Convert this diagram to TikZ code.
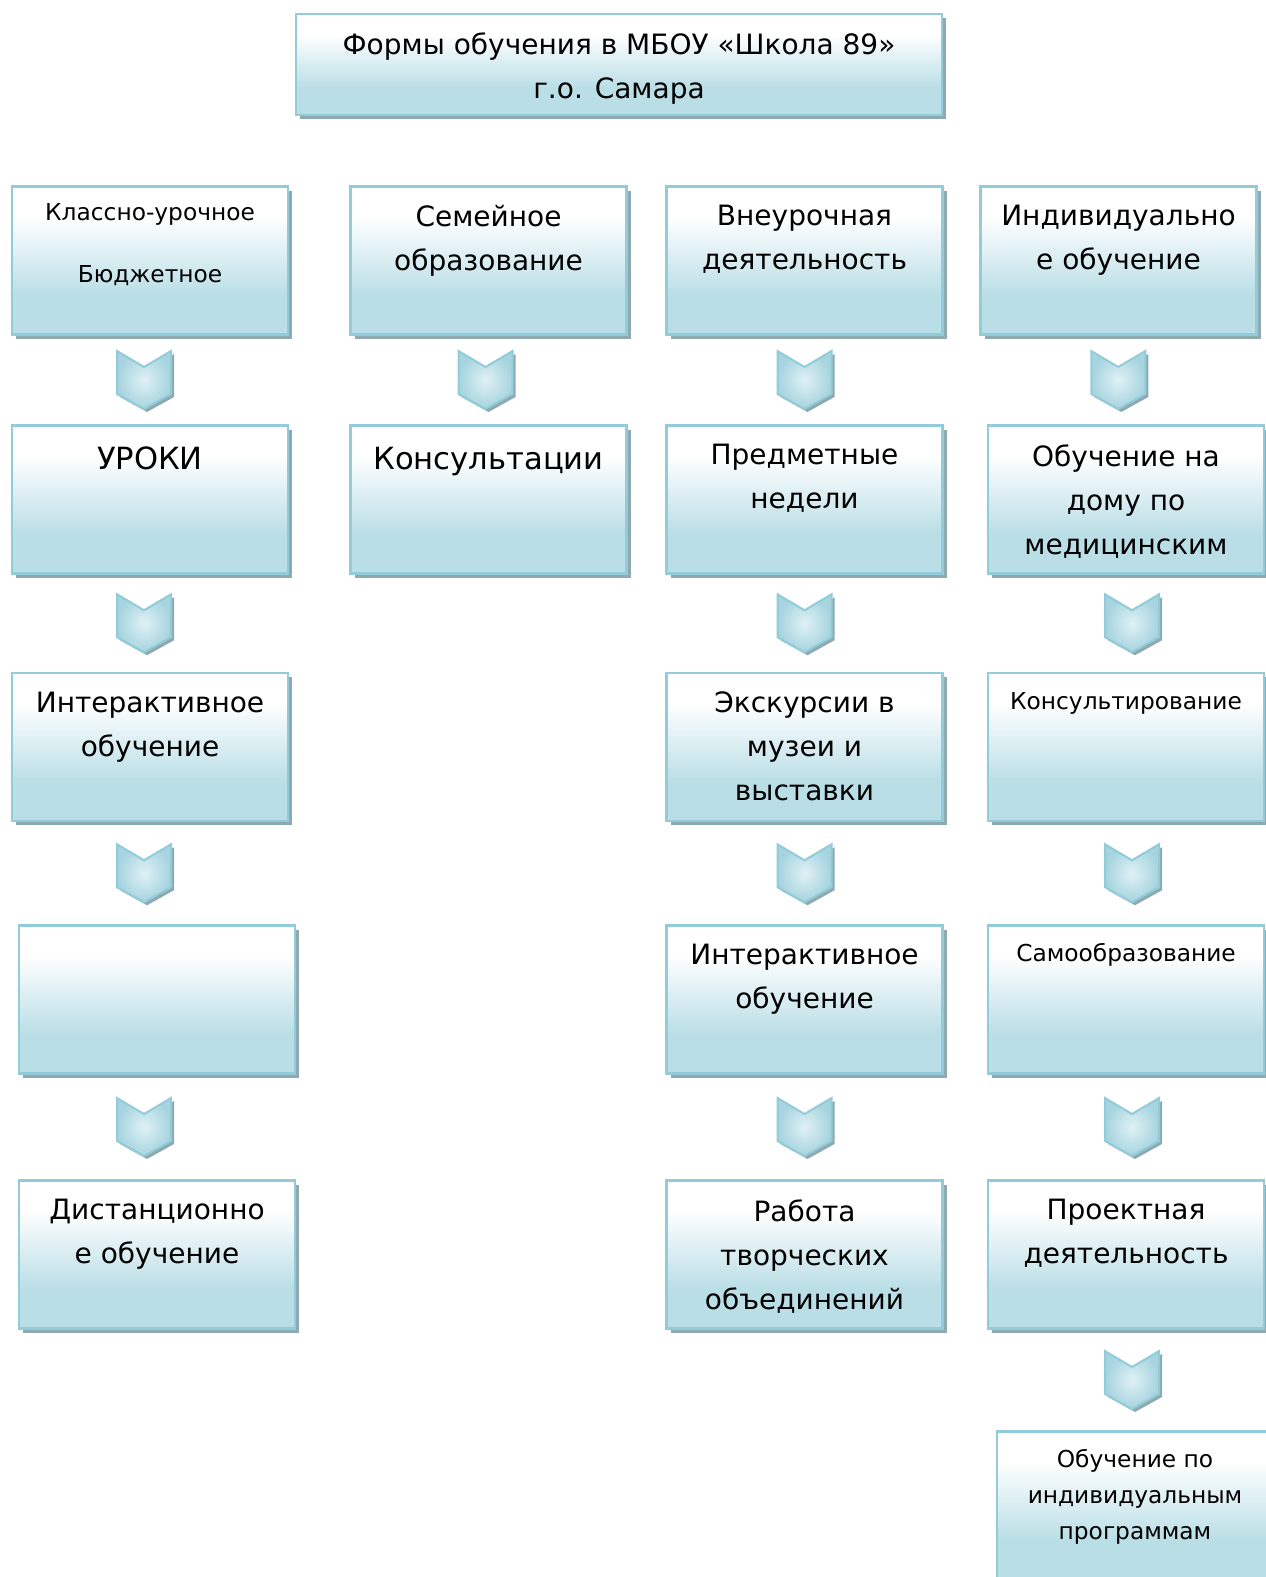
\documentclass[tikz,border=0pt]{standalone}
\usepackage{fontspec}
\setmainfont{DejaVu Sans}
\usetikzlibrary{calc,shadows}
\definecolor{boxblue}{HTML}{B9DEE6}
\definecolor{boxline}{HTML}{92CCDA}
\definecolor{boxshadow}{HTML}{8FA9B0}
\definecolor{chevlight}{HTML}{E0F1F5}
\definecolor{chevdark}{HTML}{A6D4DF}
\pgfdeclareverticalshading{boxshade}{100bp}{color(0bp)=(boxblue); color(38bp)=(boxblue); color(65bp)=(white); color(100bp)=(white)}
\newcommand\bigsz{\fontsize{28}{44}\selectfont}
\newcommand\hugesz{\fontsize{30.6}{44}\selectfont}
\newcommand\smallsz{\fontsize{23.3}{36}\selectfont}
\tikzset{
  box/.style={draw=boxline, line width=2.5pt, shade, shading=boxshade,
    minimum width=276pt, minimum height=148pt, inner sep=0pt,
    drop shadow={shadow xshift=4pt, shadow yshift=-4pt, fill=boxshadow, opacity=1}},
  txt/.style={font=\bigsz, align=center, inner sep=0pt, anchor=north, yshift=-20pt,
    execute at begin node={\rule{0pt}{0.95em}}},
  stxt/.style={txt, font=\smallsz, yshift=5pt},
  htxt/.style={txt, font=\hugesz, yshift=4pt},
  chevfill/.style={draw=boxline, line width=2pt, inner color=chevlight, outer color=chevdark,
    drop shadow={shadow xshift=3pt, shadow yshift=-3pt, fill=boxshadow, opacity=1}},
  chev/.pic={\path[chevfill] (-27,-29) -- (0,-13) -- (27,-29) -- (27,14) -- (0,29) -- (-27,14) -- cycle;}
}
% chevron between two boxes, optional sideways shift
\newcommand\chev[3][0]{\pic at ($(#2.south)!.5!(#3.north)+(#1,0)$) {chev};}

\begin{document}
\begin{tikzpicture}[x=1pt,y=-1pt]
\useasboundingbox (0,0) rectangle (1266,1577);
\clip (0,0) rectangle (1266,1577);

\node[box, minimum width=646pt, minimum height=101pt,
  label={[txt]north:Формы обучения в МБОУ «Школа 89»\\г.о. Самара}] (title) at (619,64.5) {};

% column 1
\node[box, label={[stxt, yshift=-3pt]north:Классно-урочное\\[26pt]Бюджетное}] (k1) at (150,260.5) {};
\node[box, label={[htxt]north:УРОКИ}] (k2) at (150,499.5) {};
\node[box, label={[txt]north:Интерактивное\\обучение}] (k3) at (150,747) {};
\node[box] (k4) at (157,999.5) {};
\node[box, label={[txt]north:Дистанционно\\е обучение}] (k5) at (157,1254.5) {};

% column 2
\node[box, label={[txt]north:Семейное\\образование}] (s1) at (488.5,260.5) {};
\node[box, label={[htxt]north:Консультации}] (s2) at (488.5,499.5) {};

% column 3
\node[box, label={[txt]north:Внеурочная\\деятельность}] (v1) at (804.5,260.5) {};
\node[box, label={[txt]north:Предметные\\недели}] (v2) at (804.5,499.5) {};
\node[box, label={[txt]north:Экскурсии в\\музеи и\\выставки}] (v3) at (804.5,747) {};
\node[box, label={[txt]north:Интерактивное\\обучение}] (v4) at (804.5,999.5) {};
\node[box, label={[txt]north:Работа\\творческих\\объединений}] (v5) at (804.5,1254.5) {};

% column 4
\node[box, label={[txt]north:Индивидуально\\е обучение}] (d1) at (1118.5,260.5) {};
\node[box, label={[txt]north:Обучение на\\дому по\\медицинским}] (d2) at (1126,499.5) {};
\node[box, label={[stxt]north:Консультирование}] (d3) at (1126,747) {};
\node[box, label={[stxt]north:Самообразование}] (d4) at (1126,999.5) {};
\node[box, label={[txt]north:Проектная\\деятельность}] (d5) at (1126,1254.5) {};
\node[box, label={[stxt, yshift=-4pt]north:Обучение по\\индивидуальным\\программам}] (d6) at (1135,1505.5) {};

\chev[-6]{k1}{k2}
\chev[-6]{k2}{k3}
\chev[-9.5]{k3}{k4}
\chev[-13]{k4}{k5}
\chev[-3]{s1}{s2}
\chev{v1}{v2}
\chev{v2}{v3}
\chev{v3}{v4}
\chev{v4}{v5}
\chev[-4]{d1}{d2}
\chev[6]{d2}{d3}
\chev[6]{d3}{d4}
\chev[6]{d4}{d5}
\chev[1.5]{d5}{d6}
\end{tikzpicture}
\end{document}
